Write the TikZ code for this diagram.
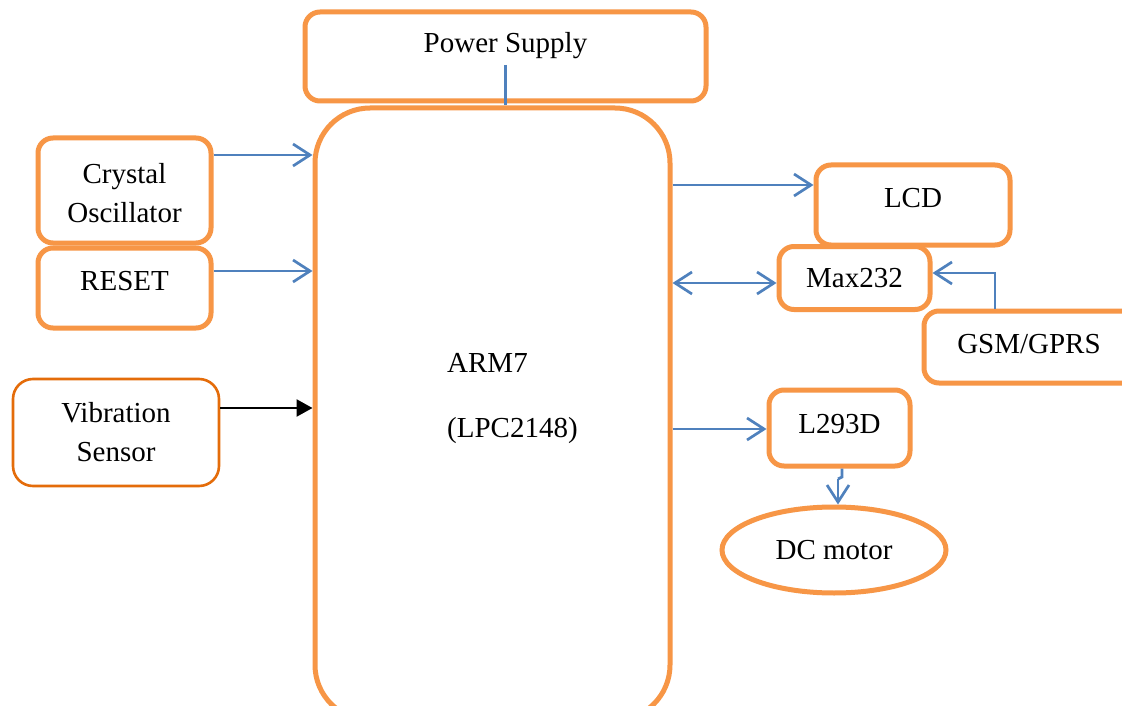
\documentclass[tikz,border=0pt]{standalone}
\usepackage{fontspec}
\setmainfont{Liberation Serif}
\usetikzlibrary{arrows.meta,shapes.geometric}
\definecolor{boxorange}{HTML}{F79646}
\definecolor{darkorange}{HTML}{E46C0A}
\definecolor{linkblue}{HTML}{4F81BD}
\begin{document}
\begin{tikzpicture}[x=1pt,y=-1pt,
  txt/.style={font=\fontsize{29}{39}\selectfont, align=center, inner sep=0pt},
  box/.style={draw=boxorange, line width=5pt, rounded corners=15pt, fill=white, txt},
  vbox/.style={draw=darkorange, line width=2.6pt, rounded corners=20pt, fill=white, txt},
  link/.style={draw=linkblue, line width=2.7pt, -{Straight Barb[length=17pt,width=22pt,line width=2.7pt]}},
  dlink/.style={link, {Straight Barb[length=17pt,width=22pt,line width=2.7pt]}-{Straight Barb[length=17pt,width=22pt,line width=2.7pt]}},
  blink/.style={draw=black, line width=2.6pt, -{Triangle[length=16pt,width=17pt]}}]
\useasboundingbox (0,0) rectangle (1122,706);
\clip (0,0) rectangle (1122,706);
\fill[white] (0,0) rectangle (1122,706);

% boxes
\node[box, minimum width=401pt, minimum height=89pt,
  label={[txt, yshift=11pt]center:Power Supply}] (ps) at (505.5,56.5) {};
\node[box, rounded corners=55pt, minimum width=355pt, minimum height=612pt] (arm) at (492.5,414) {};
\node[txt, anchor=west] (armA) at (447,363) {ARM7};
\node[txt, anchor=west] (armB) at (447,431) {(LPC2148)};

\node[box, minimum width=173pt, minimum height=105pt,
  label={[txt, yshift=-3pt]center:Crystal\\Oscillator}] (cry) at (124.5,190.5) {};
\node[box, minimum width=173pt, minimum height=80pt,
  label={[txt, yshift=7pt]center:RESET}] (rst) at (124.5,288) {};
\node[vbox, minimum width=206pt, minimum height=107pt] (vib) at (116,432.5) {Vibration\\Sensor};

\node[box, minimum width=194pt, minimum height=80pt,
  label={[txt, yshift=7pt]center:LCD}] (lcd) at (913,205) {};
\node[box, minimum width=151pt, minimum height=63pt] (max) at (854.5,278) {Max232};
\node[box, minimum width=220pt, minimum height=72pt,
  label={[txt, xshift=-5pt, yshift=3pt]center:GSM/GPRS}] (gsm) at (1034,347) {};
\node[box, minimum width=141pt, minimum height=76pt,
  label={[txt, yshift=4pt]center:L293D}] (l293) at (839.5,428) {};
\node[draw=boxorange, line width=5pt, ellipse, minimum width=224pt, minimum height=86pt, txt] (dc) at (834,550) {DC motor};

% connectors
\draw[draw=linkblue, line width=2.7pt] (ps.center |- 0,65) -- (arm.north -| ps.center);
\draw[link] (cry.east |- 0,155) -- (arm.west |- 0,155);
\draw[link] (rst.east |- 0,271) -- (arm.west |- 0,271);
\draw[blink] (vib.east |- 0,408) -- (arm.west |- 0,408);
\draw[link] (arm.east |- 0,185) -- (lcd.west |- 0,185);
\draw[dlink] (arm.east |- 0,283) -- (max.west |- 0,283);
\draw[link] (gsm.north -| 995,0) -- (995,273) -- (max.east |- 0,273);
\draw[link] (arm.east |- 0,429) -- (l293.west |- 0,429);
\draw[draw=linkblue, line width=2.7pt] (l293.south -| 842,0) -- (842,477) -- (838,479) coordinate (jog);
\draw[link] (jog) -- (dc.north -| jog);
\end{tikzpicture}
\end{document}
